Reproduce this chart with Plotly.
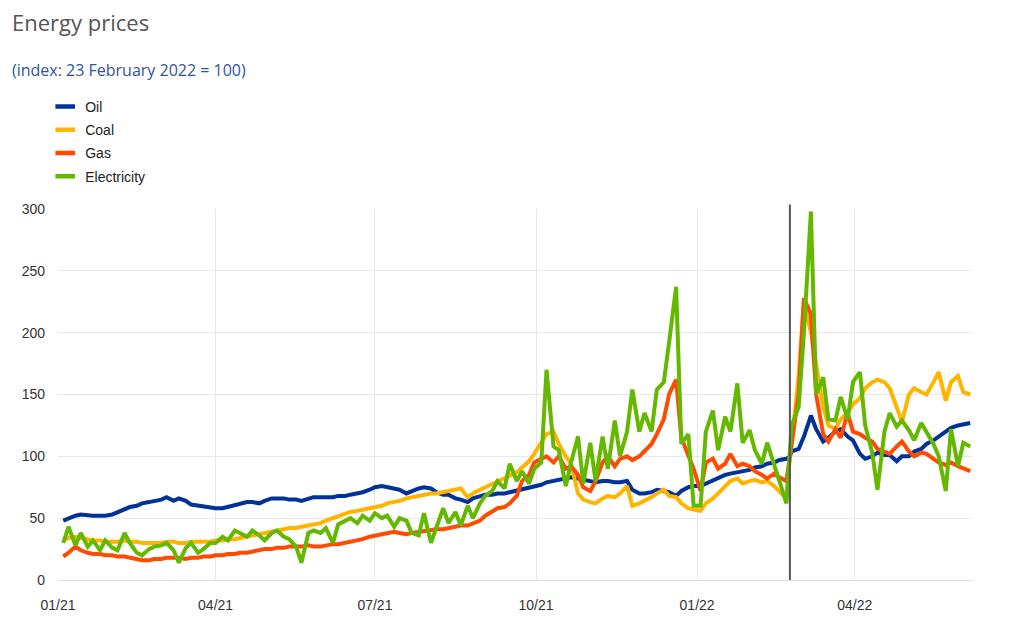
import plotly.graph_objects as go
import pandas as pd

# Observation dates (twice a week) plus the index base date
mondays = pd.date_range("2021-01-04", "2022-06-06", freq="W-MON")
thursdays = pd.date_range("2021-01-07", "2022-06-02", freq="W-THU")
dates = mondays.union(thursdays).union(pd.DatetimeIndex(["2022-02-23"]))

series_names = ["Oil", "Coal", "Gas", "Electricity"]
series_colors = ["#003299", "#ffb400", "#ff4b00", "#65b800"]

oil = [
    48, 50, 52, 53, 52, 52, 52, 52,          # Jan 21
    53, 55, 57, 59, 60, 62, 63, 64,          # Feb
    65, 67, 64, 66, 64, 61, 60, 60, 59,      # Mar
    58, 58, 59, 61, 62, 63, 63, 62, 64,      # Apr
    66, 66, 66, 65, 65, 64, 66, 67, 67,      # May
    67, 67, 68, 68, 69, 70, 71, 73,          # Jun
    75, 76, 75, 74, 73, 70, 72, 74, 75,      # Jul
    74, 71, 69, 69, 66, 65, 63, 66, 68,      # Aug
    69, 69, 70, 70, 71, 72, 73, 75, 76,      # Sep
    77, 79, 80, 81, 82, 83, 82, 81,          # Oct
    80, 79, 80, 80, 79, 79, 80, 73, 70,      # Nov
    70, 71, 73, 72, 71, 68, 72, 75, 76,      # Dec
    76, 78, 81, 83, 85, 86, 87, 88, 89,      # Jan 22
    91, 92, 94, 95, 97, 98, 100, 104, 106,   # Feb
    116, 133, 122, 112, 115, 120, 122, 116, 113,  # Mar
    102, 98, 100, 103, 101, 101, 96, 100,    # Apr
    100, 104, 106, 110, 113, 116, 120, 123, 125,  # May
    126, 127,                                # Jun
]

coal = [
    32, 34, 35, 34, 33, 32, 32, 31,
    31, 31, 32, 31, 31, 30, 30, 30,
    30, 31, 31, 30, 30, 31, 31, 31, 31,
    32, 32, 33, 33, 34, 35, 36, 37, 38,
    39, 40, 41, 42, 42, 43, 44, 45, 46,
    48, 50, 52, 54, 55, 56, 57, 58,
    59, 60, 62, 63, 64, 66, 67, 68, 69,
    70, 70, 71, 72, 73, 74, 67, 70, 73,
    75, 78, 80, 82, 84, 87, 91, 96, 102,
    112, 118, 120, 110, 100, 94, 70, 65,
    63, 62, 66, 68, 67, 70, 76, 60, 62,
    64, 67, 70, 73, 68, 67, 62, 58, 57,
    56, 62, 66, 70, 76, 80, 82, 78, 80,
    81, 79, 80, 76, 72, 66, 100, 110, 165,
    225, 200, 175, 140, 125, 122, 130, 135, 142,
    147, 155, 160, 162, 160, 155, 140, 128,
    150, 155, 152, 150, 160, 168, 145, 160, 165,
    152, 150,
]

gas = [
    19, 22, 27, 24, 22, 21, 21, 20,
    20, 19, 19, 18, 17, 16, 16, 17,
    17, 18, 18, 18, 17, 18, 18, 19, 19,
    20, 20, 21, 21, 22, 22, 23, 24, 25,
    25, 26, 26, 27, 27, 27, 28, 27, 27,
    28, 29, 29, 30, 31, 32, 33, 35,
    36, 37, 38, 39, 38, 37, 38, 39, 39,
    40, 41, 41, 42, 43, 44, 44, 46, 48,
    52, 56, 58, 59, 62, 68, 80, 85, 95,
    98, 100, 95, 100, 90, 92, 85, 75,
    72, 80, 95, 100, 92, 98, 100, 97, 100,
    104, 110, 118, 130, 150, 162, 115, 100, 90,
    72, 95, 98, 90, 94, 102, 92, 94, 92,
    88, 85, 82, 86, 83, 80, 100, 115, 150,
    228, 215, 150, 118, 112, 122, 115, 135, 120,
    118, 115, 112, 106, 104, 102, 108, 112,
    104, 100, 103, 102, 98, 95, 93, 95, 92,
    90, 88,
]

electricity = [
    30, 43, 28, 38, 27, 32, 24, 32,
    26, 24, 38, 30, 22, 20, 25, 27,
    28, 30, 24, 14, 26, 30, 22, 25, 30,
    30, 35, 32, 40, 38, 35, 40, 36, 32,
    38, 40, 35, 33, 27, 14, 38, 40, 38,
    42, 30, 45, 48, 50, 46, 52, 48,
    54, 50, 52, 43, 50, 48, 38, 36, 54,
    30, 42, 58, 46, 55, 44, 60, 50, 62,
    68, 72, 80, 74, 94, 80, 88, 78, 90,
    95, 170, 108, 105, 76, 95, 116, 78,
    111, 80, 116, 90, 129, 100, 120, 154, 120,
    135, 120, 154, 160, 192, 237, 110, 118, 60,
    60, 120, 137, 105, 132, 120, 159, 111, 121,
    105, 94, 111, 92, 80, 62, 100, 125, 140,
    200, 298, 150, 164, 130, 129, 148, 130, 160,
    168, 125, 103, 73, 120, 135, 124, 129,
    121, 113, 127, 119, 110, 100, 72, 122, 92,
    111, 108,
]

tick_dates = ["2021-01-01", "2021-04-01", "2021-07-01", "2021-10-01", "2022-01-01", "2022-04-01"]
tick_labels = ["01/21", "04/21", "07/21", "10/21", "01/22", "04/22"]
base_date = "2022-02-23"

all_series = [oil, coal, gas, electricity]
for s in all_series:
    assert len(s) == len(dates), (len(s), len(dates))

fig = go.Figure()
for name, color, vals in zip(series_names, series_colors, all_series):
    fig.add_trace(go.Scatter(
        x=dates, y=vals, mode="lines", name=name,
        line=dict(color=color, width=4), showlegend=False,
    ))
# legend entries (short dash symbols)
for i, (name, color) in enumerate(zip(series_names, series_colors)):
    fig.add_trace(go.Scatter(
        x=[None], y=[None], mode="markers", name=name, legendgroup=f"g{i}",
        marker=dict(symbol="line-ew", size=14, color=color,
                    line=dict(color=color, width=4.5)),
        showlegend=True,
    ))

fig.add_shape(type="line", xref="x", yref="paper",
              x0=base_date, x1=base_date, y0=0, y1=1.012,
              line=dict(color="#555555", width=2))

fig.update_layout(
    width=1011, height=628,
    margin=dict(l=58, r=39, t=209, b=48, autoexpand=False),
    paper_bgcolor="white", plot_bgcolor="white",
    font=dict(family="Liberation Sans, Arial, sans-serif", size=14, color="#333333"),
    legend=dict(x=-0.014, xanchor="left", yref="container", y=1 - 91 / 628, yanchor="top",
                font=dict(size=14, color="#222222"), tracegroupgap=2,
                bgcolor="rgba(0,0,0,0)", itemclick=False),
    annotations=[
        dict(text="Energy prices", xref="paper", yref="paper", x=-0.053, y=1.0,
             xanchor="left", yanchor="bottom", showarrow=False, align="left",
             font=dict(family="Open Sans, Noto Sans, sans-serif", size=22, color="#555555"),
             yshift=170),
        dict(text="(index: 23 February 2022 = 100)", xref="paper", yref="paper", x=-0.053, y=1.0,
             xanchor="left", yanchor="bottom", showarrow=False, align="left",
             font=dict(family="Open Sans, Noto Sans, sans-serif", size=16, color="#2f539f"),
             yshift=126),
    ],
    showlegend=True,
)
fig.update_xaxes(
    type="date", range=["2021-01-01", "2022-06-07"],
    tickvals=tick_dates, ticktext=tick_labels,
    showgrid=True, gridcolor="#e8e8e8", gridwidth=1,
    showline=True, linecolor="#e0e0e0", zeroline=False,
    ticks="", ticklabelstandoff=12,
    tickfont=dict(size=14, color="#333333"),
)
fig.update_yaxes(
    range=[0, 300], tickvals=[0, 50, 100, 150, 200, 250, 300],
    showgrid=True, gridcolor="#e8e8e8", gridwidth=1,
    zeroline=False, showline=False, ticks="", ticklabelstandoff=12,
    tickfont=dict(size=14, color="#333333"),
)

fig.write_html("out.html", config={"displayModeBar": False},
               post_script="document.body.style.margin='0';")
